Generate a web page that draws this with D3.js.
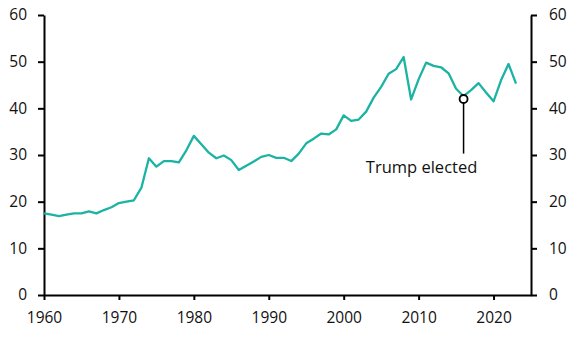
<!DOCTYPE html>
<html>
<head>
<meta charset="utf-8">
<script src="https://cdn.jsdelivr.net/npm/d3@7"></script>
<style>
  body { margin: 0; background: #fff; }
  text { font-family: "Open Sans", "Noto Sans", sans-serif; }
</style>
</head>
<body>
<div id="chart"></div>
<script>
(function() {
  var years = d3.range(1960, 2024);
  var values = [17.5, 17.2, 16.9, 17.2, 17.5, 17.5, 17.9, 17.5, 18.2, 18.8,
                19.7, 20.0, 20.3, 23.0, 29.3, 27.5, 28.7, 28.7, 28.4, 31.0,
                34.1, 32.3, 30.5, 29.3, 29.9, 28.9, 26.8, 27.7, 28.6, 29.6,
                30.0, 29.4, 29.4, 28.7, 30.3, 32.5, 33.5, 34.6, 34.4, 35.5,
                38.5, 37.3, 37.6, 39.3, 42.3, 44.6, 47.4, 48.4, 51.0, 41.9,
                46.2, 49.8, 49.1, 48.8, 47.5, 44.2, 42.6, 43.9, 45.4, 43.4,
                41.5, 46.0, 49.5, 45.3];
  var yTicks = [0, 10, 20, 30, 40, 50, 60];
  var xTicks = [1960, 1970, 1980, 1990, 2000, 2010, 2020];
  var note = { year: 2016, value: 42, label: "Trump elected", labelValue: 30.3 };

  var margin = { top: 15, left: 44, right: 48, bottom: 45 },
      width = 579 - margin.left - margin.right,
      height = 340 - margin.top - margin.bottom;

  var svg = d3.select("#chart")
      .append("svg")
      .attr("width", 579)
      .attr("height", 340)
      .append("g")
      .attr("transform", "translate(" + margin.left + "," + margin.top + ")");

  var x = d3.scaleLinear().domain([1960, 2025]).range([0, width]);
  var y = d3.scaleLinear().domain([0, 60]).range([height, 0]);

  function styleAxis(g) {
    g.selectAll("path, line").attr("stroke", "#000").attr("stroke-width", 2);
    g.selectAll("text").attr("font-size", 15.5).attr("fill", "#111");
  }

  svg.append("g")
    .call(d3.axisLeft(y).tickValues(yTicks).tickSize(6).tickSizeOuter(0).tickPadding(11))
    .call(styleAxis);

  svg.append("g")
    .attr("transform", "translate(" + width + ",0)")
    .call(d3.axisRight(y).tickValues(yTicks).tickSize(6).tickSizeOuter(0).tickPadding(12))
    .call(styleAxis);

  svg.append("g")
    .attr("transform", "translate(0," + height + ")")
    .call(d3.axisBottom(x).tickValues(xTicks).tickFormat(d3.format("d")).tickSize(5).tickSizeOuter(0).tickPadding(12))
    .call(styleAxis);

  var line = d3.line()
    .x(function(d, i) { return x(years[i]); })
    .y(function(d) { return y(d); });

  svg.append("path")
    .datum(values)
    .attr("fill", "none")
    .attr("stroke", "#1bb3a3")
    .attr("stroke-width", 2.3)
    .attr("stroke-linejoin", "round")
    .attr("d", line);

  // annotation
  svg.append("line")
    .attr("x1", x(note.year)).attr("x2", x(note.year))
    .attr("y1", y(note.value)).attr("y2", y(note.labelValue))
    .attr("stroke", "#000").attr("stroke-width", 1.5);

  svg.append("circle")
    .attr("cx", x(note.year)).attr("cy", y(note.value))
    .attr("r", 4)
    .attr("fill", "#fff")
    .attr("stroke", "#000")
    .attr("stroke-width", 1.8);

  svg.append("text")
    .attr("x", x(note.year) - 42)
    .attr("y", y(note.labelValue) + 19)
    .attr("text-anchor", "middle")
    .attr("font-size", 16.5)
    .attr("fill", "#111")
    .text(note.label);
})();
</script>
</body>
</html>
